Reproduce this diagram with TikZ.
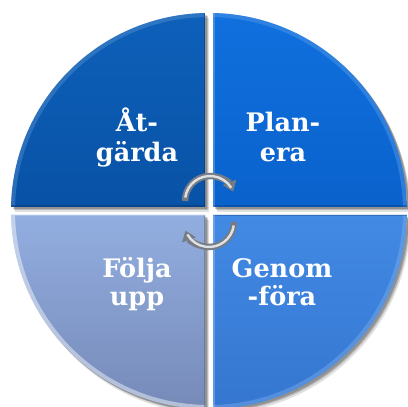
\documentclass[tikz,border=0pt]{standalone}
\usepackage{fontspec}
\setmainfont{DejaVu Serif}
\usetikzlibrary{arrows.meta}
\definecolor{tlA}{RGB}{14,96,186}
\definecolor{tlB}{RGB}{8,82,166}
\definecolor{trA}{RGB}{16,112,222}
\definecolor{trB}{RGB}{10,98,204}
\definecolor{brA}{RGB}{66,138,228}
\definecolor{brB}{RGB}{52,118,208}
\definecolor{blA}{RGB}{146,174,224}
\definecolor{blB}{RGB}{118,138,184}
\definecolor{arrD}{RGB}{118,124,132}
\definecolor{arrL}{RGB}{222,225,230}
\tikzset{
  lbl/.style={font=\bfseries\fontsize{25.5}{29}\selectfont, text=white, anchor=base, inner sep=0pt},
  rim/.style={line width=8pt, draw opacity=0.45},
  edge/.style={line width=3pt, draw opacity=0.5},
  cyc/.style={line width=6.5pt, draw=arrD, -{Triangle[width=14pt,length=10pt]}},
  cychi/.style={line width=2.4pt, draw=arrL},
}
\def\R{198}
\def\secTL{(-4,4) -- (91.16:\R) arc[start angle=91.16,end angle=178.84,radius=\R] -- cycle}
\def\secTR{(4,4) -- (1.16:\R) arc[start angle=1.16,end angle=88.84,radius=\R] -- cycle}
\def\secBR{(4,-4) -- (-88.84:\R) arc[start angle=-88.84,end angle=-1.16,radius=\R] -- cycle}
\def\secBL{(-4,-4) -- (181.16:\R) arc[start angle=181.16,end angle=268.84,radius=\R] -- cycle}
\begin{document}
\begin{tikzpicture}[x=1pt,y=1pt]
\useasboundingbox (0,0) rectangle (408,407);
\fill[white] (0,0) rectangle (408,407);
\begin{scope}[shift={(209,196)}]
  % shadows
  \foreach \s/\o in {{(4,-5)}/0.12,{(3,-3)}/0.18,{(2,-2)}/0.2}{
    \fill[black, opacity=\o, shift=\s] \secTL;
    \fill[black, opacity=\o, shift=\s] \secTR;
    \fill[black, opacity=\o, shift=\s] \secBR;
    \fill[black, opacity=\o, shift=\s] \secBL;
  }
  % sectors
  \shade[top color=tlA, bottom color=tlB] \secTL;
  \shade[top color=trA, bottom color=trB] \secTR;
  \shade[top color=brA, bottom color=brB] \secBR;
  \shade[top color=blA, bottom color=blB] \secBL;
  % bevels
  \begin{scope}\clip \secTL;
    \draw[rim, draw=tlA!70!white] (0,0) circle[radius=\R];
    \draw[edge, draw=tlB!70!black] (-4,4) -- (-4,200) (-4,4) -- (-200,4);
  \end{scope}
  \begin{scope}\clip \secTR;
    \draw[rim, draw=trA!70!white] (0,0) circle[radius=\R];
    \draw[edge, draw=trB!70!black] (4,4) -- (200,4);
    \draw[edge, draw=trA!60!white] (4,4) -- (4,200);
  \end{scope}
  \begin{scope}\clip \secBR;
    \draw[rim, draw=brA!70!white] (0,0) circle[radius=\R];
    \draw[edge, draw=brB!70!black] (4,-4) -- (200,-4);
    \draw[edge, draw=brA!60!white] (4,-4) -- (4,-200);
  \end{scope}
  \begin{scope}\clip \secBL;
    \draw[rim, draw=white] (0,0) circle[radius=\R];
    \draw[edge, draw=blB!70!black] (-4,-4) -- (-4,-200);
    \draw[edge, draw=blA!60!white] (-4,-4) -- (-200,-4);
  \end{scope}
  % cycle arrows
  \draw[cyc] (1,10) ++(180:25) arc[start angle=180,end angle=22,radius=25];
  \draw[cychi] (1,10) ++(172:25) arc[start angle=172,end angle=32,radius=25];
  \draw[cyc] (0,-11) ++(0:25) arc[start angle=0,end angle=-160,radius=25];
  \draw[cychi] (0,-11) ++(-8:25) arc[start angle=-8,end angle=-150,radius=25];
\end{scope}
% labels
\node[lbl] (a1) at (137,275) {Åt-};
\node[lbl] (a2) at (137,245) {gärda};
\node[lbl] (p1) at (283,275) {Plan-};
\node[lbl] (p2) at (283,245) {era};
\node[lbl] (f1) at (137,129) {Följa};
\node[lbl] (f2) at (137,101) {upp};
\node[lbl] (g1) at (282,129) {Genom};
\node[lbl] (g2) at (282,101) {-föra};
\end{tikzpicture}
\end{document}
